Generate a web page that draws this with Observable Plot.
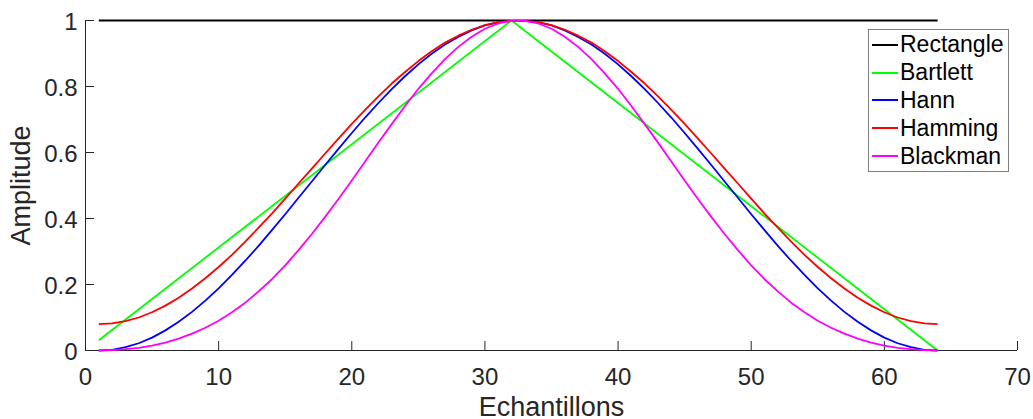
<!DOCTYPE html>
<html>
<head>
<meta charset="utf-8">
<script src="https://cdn.jsdelivr.net/npm/d3@7"></script>
<script src="https://cdn.jsdelivr.net/npm/@observablehq/plot@0.6"></script>
<style>
  body { margin: 0; background: #fff; }
  #chart { position: relative; width: 1033px; height: 419px; font-family: "Liberation Sans", Arial, Helvetica, sans-serif; }
  #legend { position: absolute; left: 868px; top: 29px; width: 141px; height: 143px; box-sizing: border-box;
            border: 1px solid #808080; background: #fff; padding-top: 1px; }
  .row { display: flex; align-items: center; height: 27.8px; font-size: 23px; color: #000; line-height: 1; }
  .swatch { margin-left: 3px; width: 26px; height: 0; border-top: 2px solid; }
  .lbl { margin-left: 2px; white-space: nowrap; }
</style>
</head>
<body>
<div id="chart"><div id="legend"></div></div>
<script>
// ---- data ----
const samples = [1,2,3,4,5,6,7,8,9,10,11,12,13,14,15,16,17,18,19,20,21,22,23,24,25,26,27,28,29,30,31,32,
                 33,34,35,36,37,38,39,40,41,42,43,44,45,46,47,48,49,50,51,52,53,54,55,56,57,58,59,60,61,62,63,64];

const rectangleX = [1, 64];
const rectangleY = [1, 1];

const bartlettX = [1, 32, 64];
const bartlettY = [0.031, 1, 0];

const hannY = [0, 0.002, 0.010, 0.022, 0.039, 0.061, 0.087, 0.117, 0.151, 0.188, 0.229, 0.272, 0.317, 0.365, 0.413, 0.463,
               0.512, 0.562, 0.611, 0.659, 0.706, 0.750, 0.792, 0.831, 0.867, 0.899, 0.927, 0.950, 0.970, 0.985, 0.994, 0.999,
               0.999, 0.994, 0.985, 0.970, 0.950, 0.927, 0.899, 0.867, 0.831, 0.792, 0.750, 0.706, 0.659, 0.611, 0.562, 0.512,
               0.463, 0.413, 0.365, 0.317, 0.272, 0.229, 0.188, 0.151, 0.117, 0.087, 0.061, 0.039, 0.022, 0.010, 0.002, 0];

const hammingY = [0.080, 0.082, 0.089, 0.100, 0.116, 0.136, 0.160, 0.188, 0.219, 0.253, 0.290, 0.330, 0.372, 0.415, 0.460, 0.506,
                  0.551, 0.597, 0.642, 0.687, 0.729, 0.770, 0.809, 0.844, 0.877, 0.907, 0.933, 0.954, 0.972, 0.986, 0.995, 0.999,
                  0.999, 0.995, 0.986, 0.972, 0.954, 0.933, 0.907, 0.877, 0.844, 0.809, 0.770, 0.729, 0.687, 0.642, 0.597, 0.551,
                  0.506, 0.460, 0.415, 0.372, 0.330, 0.290, 0.253, 0.219, 0.188, 0.160, 0.136, 0.116, 0.100, 0.089, 0.082, 0.080];

const blackmanY = [0, 0.001, 0.004, 0.008, 0.015, 0.024, 0.036, 0.051, 0.069, 0.090, 0.116, 0.145, 0.179, 0.216, 0.258, 0.304,
                   0.353, 0.405, 0.459, 0.515, 0.573, 0.630, 0.686, 0.741, 0.793, 0.840, 0.883, 0.920, 0.951, 0.975, 0.991, 0.999,
                   0.999, 0.991, 0.975, 0.951, 0.920, 0.883, 0.840, 0.793, 0.741, 0.686, 0.630, 0.573, 0.515, 0.459, 0.405, 0.353,
                   0.304, 0.258, 0.216, 0.179, 0.145, 0.116, 0.090, 0.069, 0.051, 0.036, 0.024, 0.015, 0.008, 0.004, 0.001, 0];

const seriesNames  = ["Rectangle", "Bartlett", "Hann", "Hamming", "Blackman"];
const seriesColors = ["#000000", "#00ff00", "#0000ff", "#ff0000", "#ff00ff"];

const xTicks = [0, 10, 20, 30, 40, 50, 60, 70];
const xTickLabels = ["0", "10", "20", "30", "40", "50", "60", "70"];
const yTicks = [0, 0.2, 0.4, 0.6, 0.8, 1];
const yTickLabels = ["0", "0.2", "0.4", "0.6", "0.8", "1"];

const xTitle = "Echantillons";
const yTitle = "Amplitude";

// ---- build long table ----
const table = [];
rectangleX.forEach((x, i) => table.push({x, y: rectangleY[i], series: "Rectangle"}));
bartlettX.forEach((x, i) => table.push({x, y: bartlettY[i], series: "Bartlett"}));
samples.forEach((x, i) => table.push({x, y: hannY[i], series: "Hann"}));
samples.forEach((x, i) => table.push({x, y: hammingY[i], series: "Hamming"}));
samples.forEach((x, i) => table.push({x, y: blackmanY[i], series: "Blackman"}));

const axisColor = "#262626";
const font = '"Liberation Sans", Arial, Helvetica, sans-serif';

const chart = Plot.plot({
  width: 1033,
  height: 419,
  marginLeft: 85,
  marginRight: 16,
  marginTop: 20,
  marginBottom: 69,
  x: {domain: [0, 70], label: null},
  y: {domain: [0, 1], label: null},
  color: {domain: seriesNames, range: seriesColors},
  style: {fontFamily: font, color: axisColor, background: "white", overflow: "visible"},
  marks: [
    Plot.ruleY([0], {stroke: axisColor, strokeWidth: 1}),
    Plot.ruleX([0], {stroke: axisColor, strokeWidth: 1}),
    Plot.axisX(xTicks, {tickSize: -9, tickFormat: () => "", stroke: axisColor, label: null}),
    Plot.axisY(yTicks, {tickSize: -9, tickFormat: () => "", stroke: axisColor, label: null}),
    Plot.axisX(xTicks, {tickSize: 0, tickPadding: 17, fontSize: 24, fill: axisColor,
                        tickFormat: d => xTickLabels[xTicks.indexOf(d)], label: null}),
    Plot.axisY(yTicks, {tickSize: 0, tickPadding: 8, fontSize: 24, fill: axisColor, dy: 2,
                        tickFormat: d => yTickLabels[yTicks.indexOf(d)], label: null}),
    Plot.line(table, {x: "x", y: "y", z: "series", stroke: "series", strokeWidth: 1.8,
                      strokeLinejoin: "round", strokeLinecap: "butt"}),
    Plot.text([xTitle], {frameAnchor: "bottom", lineAnchor: "bottom", textAnchor: "middle", dy: 65,
                         fontSize: 27, fill: axisColor}),
    Plot.text([yTitle], {frameAnchor: "left", lineAnchor: "middle", textAnchor: "middle", dx: -64, rotate: -90,
                         fontSize: 27, fill: axisColor})
  ]
});

const container = document.getElementById("chart");
container.insertBefore(chart, container.firstChild);

const legend = document.getElementById("legend");
seriesNames.forEach((name, i) => {
  const row = document.createElement("div");
  row.className = "row";
  const sw = document.createElement("div");
  sw.className = "swatch";
  sw.style.borderTopColor = seriesColors[i];
  const lb = document.createElement("span");
  lb.className = "lbl";
  lb.textContent = name;
  row.appendChild(sw);
  row.appendChild(lb);
  legend.appendChild(row);
});
</script>
</body>
</html>
